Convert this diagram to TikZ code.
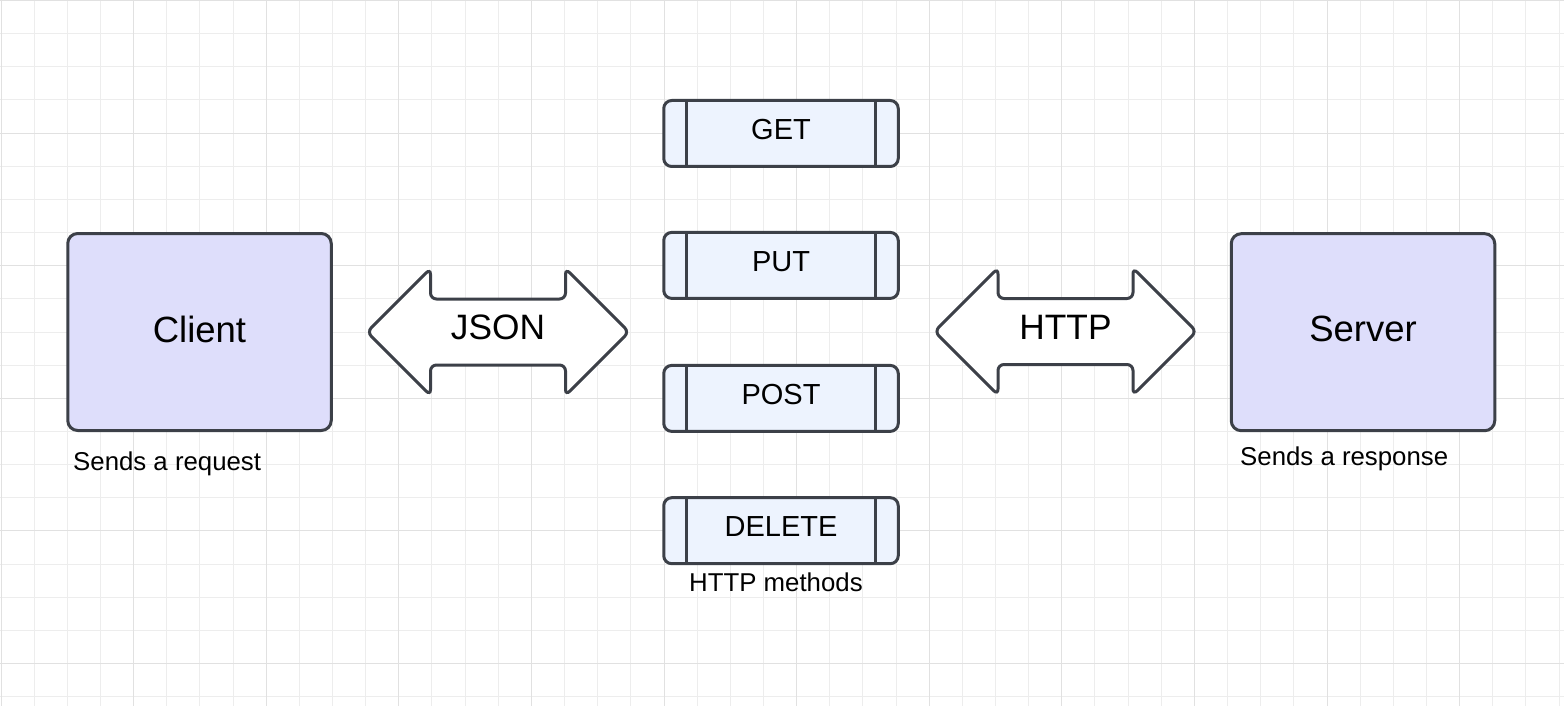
\documentclass[tikz,border=0pt]{standalone}
\usepackage{fontspec}
\setmainfont{Liberation Sans}
\definecolor{edge}{RGB}{60,64,72}
\definecolor{boxfill}{RGB}{222,222,251}
\definecolor{methfill}{RGB}{237,243,254}
\definecolor{gridminor}{RGB}{237,237,237}
\definecolor{gridmajor}{RGB}{225,225,225}
\tikzset{
  mainbox/.style={draw=edge, fill=boxfill, line width=3pt, rounded corners=10pt,
    minimum width=263.5pt, minimum height=197pt, text depth=6pt,
    font=\fontsize{36.5}{40}\selectfont},
  methodbox/.style={draw=edge, fill=methfill, line width=3pt, rounded corners=8pt,
    minimum width=234.5pt, minimum height=66pt, text depth=7.5pt,
    font=\fontsize{29}{32}\selectfont,
    path picture={
      \draw[edge, line width=3pt]
        ([xshift=22.5pt]path picture bounding box.north west) --
        ([xshift=22.5pt]path picture bounding box.south west)
        ([xshift=-22.5pt]path picture bounding box.north east) --
        ([xshift=-22.5pt]path picture bounding box.south east);
    }},
  arrowshape/.style={draw=edge, fill=white, line width=3pt, rounded corners=6pt},
  dblarrow/.pic={
    \draw[arrowshape] (-131,0) -- (-67.5,-63.5) -- (-67.5,-33) -- (67.5,-33)
      -- (67.5,-63.5) -- (131,0) -- (67.5,63.5) -- (67.5,33) -- (-67.5,33)
      -- (-67.5,63.5) -- cycle;
  },
  arrowtext/.style={inner sep=0pt, font=\fontsize{35.3}{40}\selectfont},
  note/.style={inner sep=0pt, anchor=base west, font=\fontsize{25.8}{28}\selectfont},
}
\begin{document}
\begin{tikzpicture}[x=1pt, y=-1pt]
\useasboundingbox (0,0) rectangle (1564,706);
\fill[white] (0,0) rectangle (1564,706);
% grid
\foreach \i in {0,...,47}
  \draw[gridminor, line width=1pt] ({1+\i*33.15},0) -- ({1+\i*33.15},706);
\foreach \j in {0,...,21}
  \draw[gridminor, line width=1pt] (0,{0.5+\j*33.15}) -- (1564,{0.5+\j*33.15});
\foreach \i in {0,...,11}
  \draw[gridmajor, line width=1pt] ({1+\i*132.6},0) -- ({1+\i*132.6},706);
\foreach \j in {0,...,5}
  \draw[gridmajor, line width=1pt] (0,{0.5+\j*132.6}) -- (1564,{0.5+\j*132.6});

% main boxes
\node[mainbox] (client) at (199.5,332) {Client};
\node[mainbox] (server) at (1363,332.2) {Server};
\node[note] (clientnote) at (73,470) {Sends a request};
\node[note] (servernote) at (1240,465) {Sends a response};

% double arrows
\pic at (498,332) {dblarrow};
\node[arrowtext] (json) at (498,327.5) {JSON};
\pic at (1065.5,331.5) {dblarrow};
\node[arrowtext] (http) at (1065.5,327.5) {HTTP};

% methods
\node[methodbox] (get) at (781,133.5) {GET};
\node[methodbox] (put) at (781,265.4) {PUT};
\node[methodbox] (post) at (781,398.4) {POST};
\node[methodbox] (delete) at (781,530.7) {DELETE};
\node[note] (methods) at (689,591.7) {HTTP methods};
\end{tikzpicture}
\end{document}
